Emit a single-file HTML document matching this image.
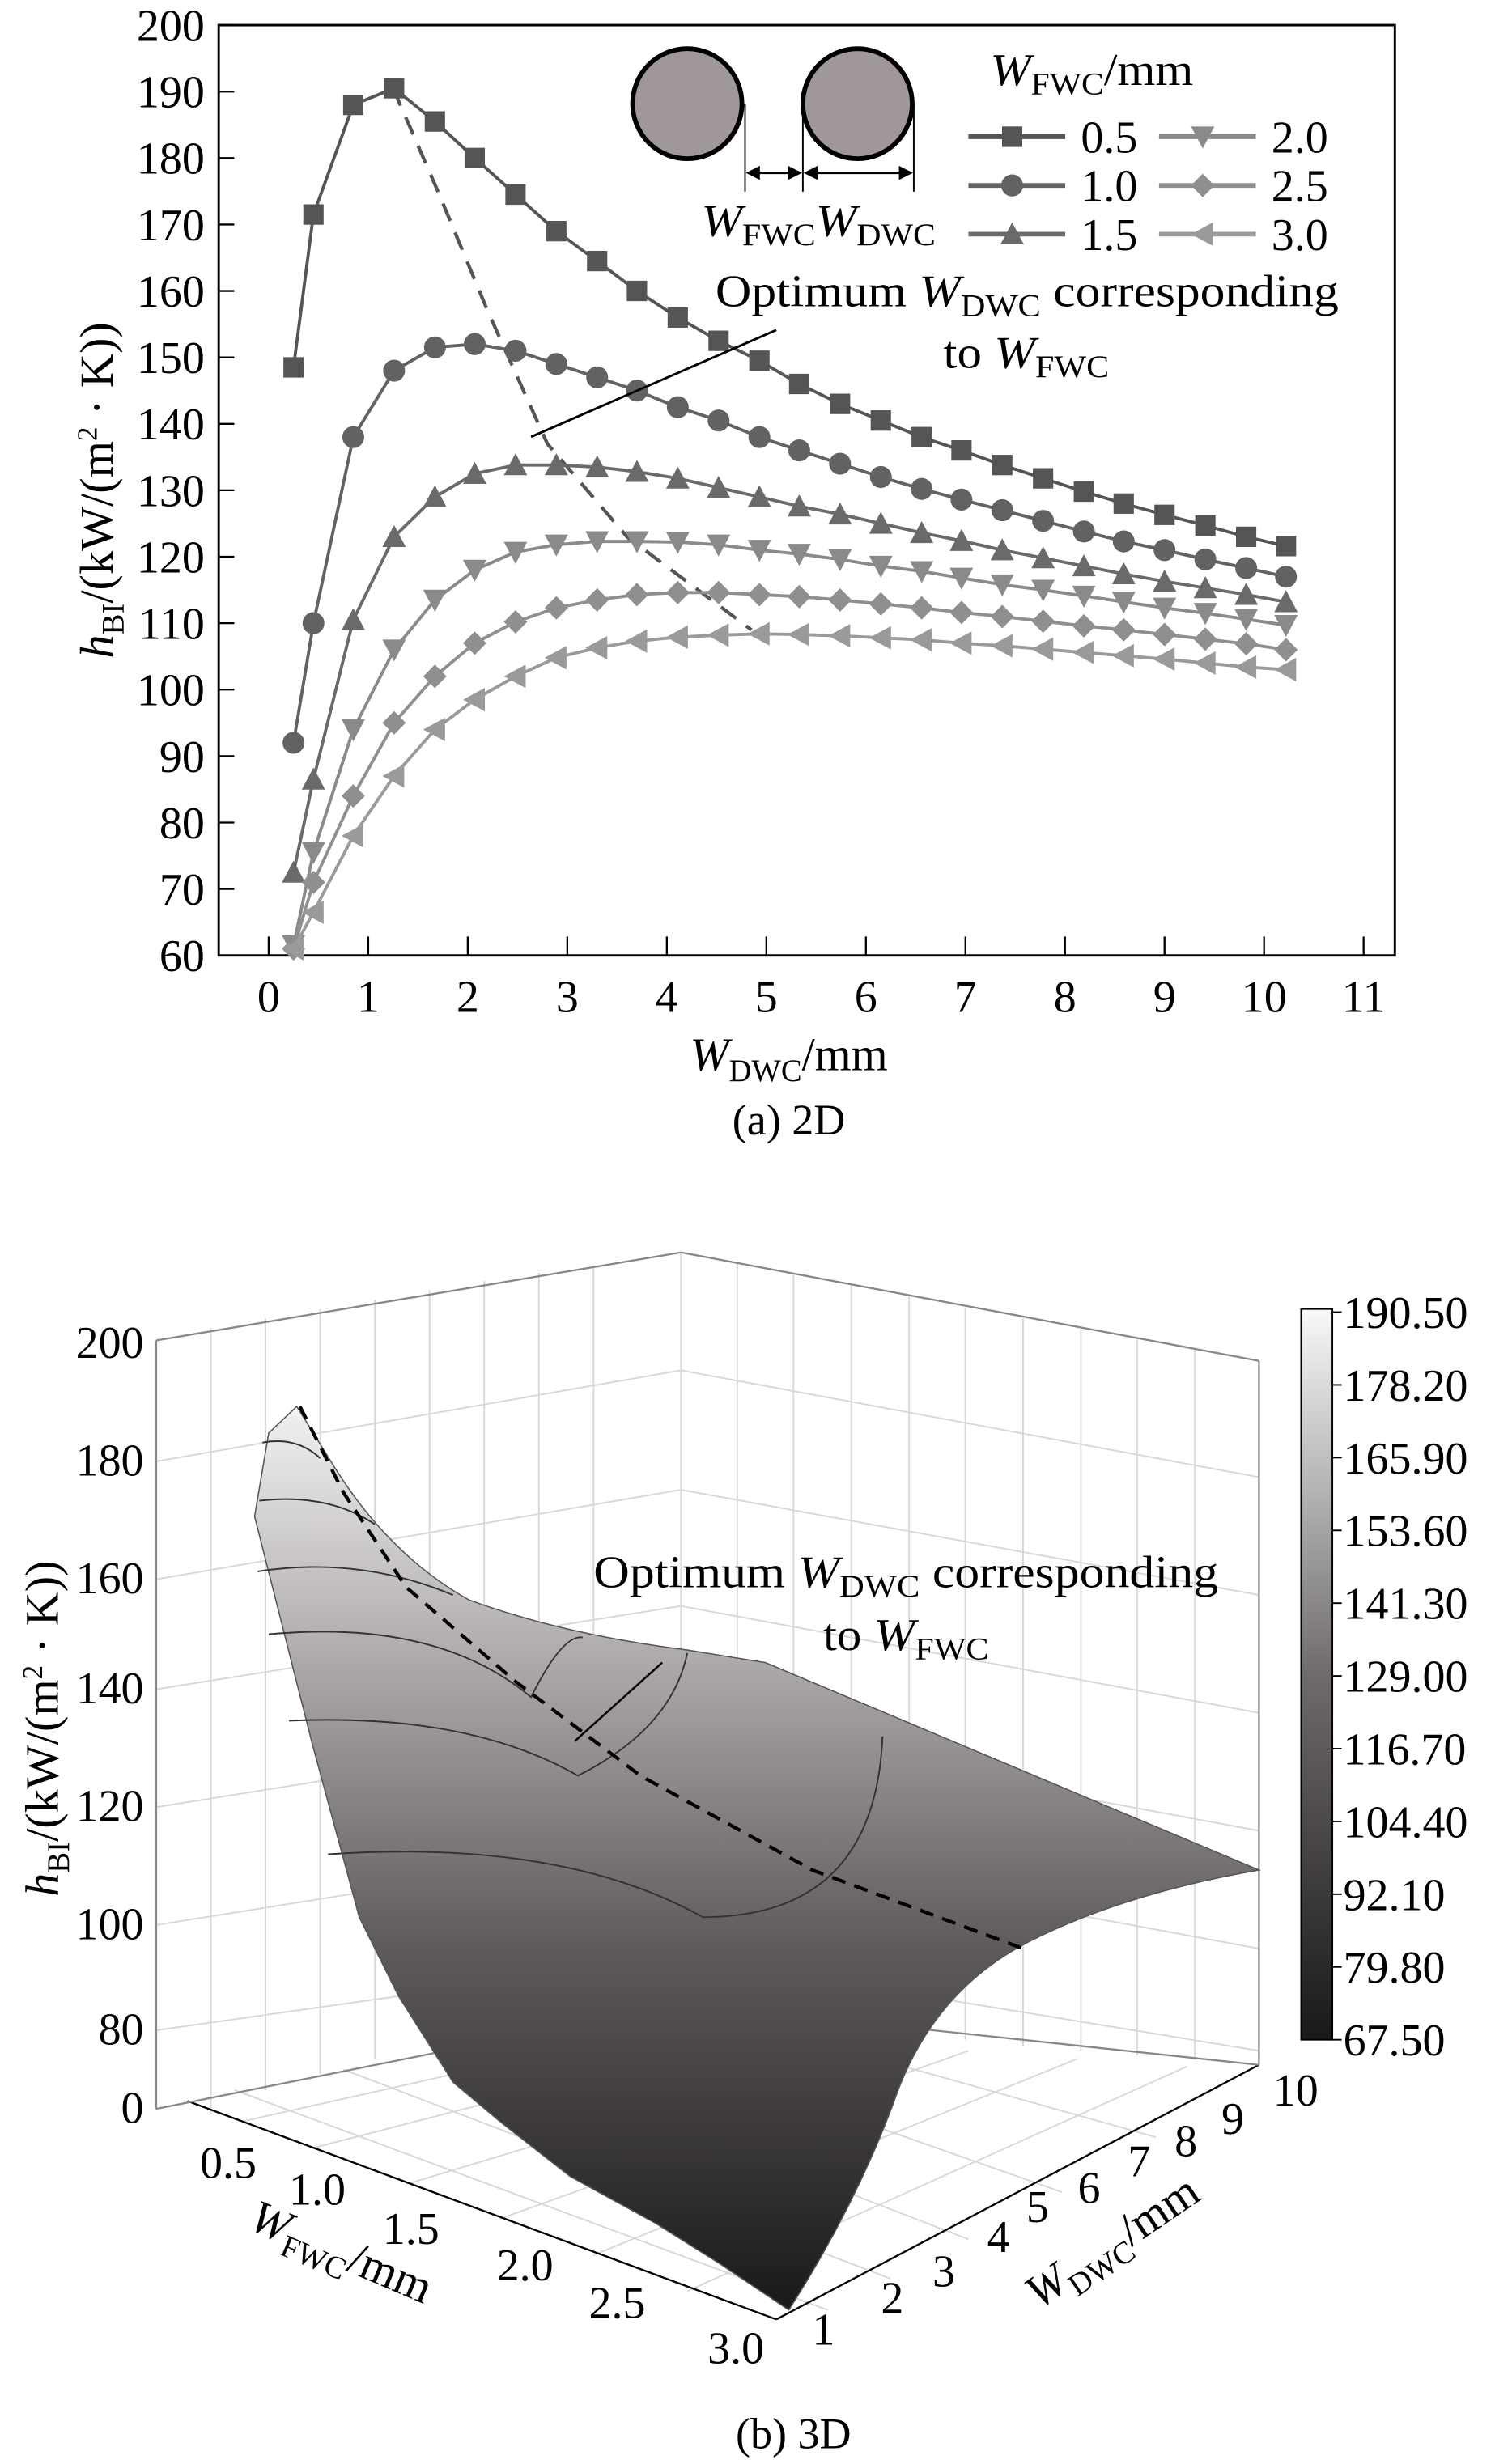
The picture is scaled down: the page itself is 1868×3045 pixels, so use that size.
<!DOCTYPE html>
<html><head><meta charset="utf-8"><style>
html,body{margin:0;padding:0;background:#fff}
svg{display:block;font-family:"Liberation Serif",serif}
</style></head><body>
<svg id="fig" width="1868" height="3045" viewBox="0 0 968 1568" preserveAspectRatio="none" xmlns="http://www.w3.org/2000/svg">
<defs>
<linearGradient id="surfG" x1="0" y1="0" x2="0" y2="1">
<stop offset="0" stop-color="#f2f0f0"/><stop offset="0.3" stop-color="#a9a5a5"/><stop offset="0.6" stop-color="#5e5a5a"/><stop offset="1" stop-color="#1a1818"/></linearGradient>
<linearGradient id="cbG" x1="0" y1="0" x2="0" y2="1">
<stop offset="0" stop-color="#f8f8f8"/><stop offset="0.5" stop-color="#6f6b6b"/><stop offset="1" stop-color="#1a1818"/></linearGradient>
<marker id="arr" markerWidth="6" markerHeight="6" refX="5" refY="3" orient="auto-start-reverse"><path d="M0,0 L6,3 L0,6 z" fill="#000"/></marker>
</defs>
<g id="chartA"></g>
<g>
<ellipse cx="440" cy="66" rx="35" ry="35" fill="#a09898" stroke="#000" stroke-width="3"/>
<ellipse cx="549" cy="66" rx="35" ry="35" fill="#a09898" stroke="#000" stroke-width="3"/>
<line x1="477" y1="66" x2="477" y2="122" stroke="#000"/>
<line x1="514" y1="66" x2="514" y2="122" stroke="#000"/>
<line x1="585" y1="66" x2="585" y2="122" stroke="#000"/>
<line x1="479" y1="110" x2="512" y2="110" stroke="#000" stroke-width="1.5" marker-start="url(#arr)" marker-end="url(#arr)"/>
<line x1="516" y1="110" x2="583" y2="110" stroke="#000" stroke-width="1.5" marker-start="url(#arr)" marker-end="url(#arr)"/>
<text x="449" y="150" font-size="29" textLength="150" lengthAdjust="spacingAndGlyphs"><tspan font-style="italic">W</tspan><tspan font-size="20" dy="6">FWC</tspan><tspan dy="-6" font-style="italic">W</tspan><tspan font-size="20" dy="6">DWC</tspan></text>
</g>
<text x="634" y="54" font-size="29" textLength="130" lengthAdjust="spacingAndGlyphs"><tspan font-style="italic">W</tspan><tspan font-size="20" dy="6">FWC</tspan><tspan dy="-6">/mm</tspan></text>
<g id="legend"></g>
<text x="458" y="195" font-size="29" textLength="399" lengthAdjust="spacingAndGlyphs">Optimum <tspan font-style="italic">W</tspan><tspan font-size="20" dy="6">DWC</tspan><tspan dy="-6"> corresponding</tspan></text>
<text x="604" y="234" font-size="29" textLength="106" lengthAdjust="spacingAndGlyphs">to <tspan font-style="italic">W</tspan><tspan font-size="20" dy="6">FWC</tspan></text>
<line x1="340" y1="278" x2="497" y2="210" stroke="#000" stroke-width="1.5"/>
<text x="505" y="681" font-size="30" text-anchor="middle"><tspan font-style="italic">W</tspan><tspan font-size="20" dy="7">DWC</tspan><tspan dy="-7">/mm</tspan></text>
<text x="505" y="722" font-size="28" text-anchor="middle">(a) 2D</text>
<text transform="translate(72,312) rotate(-90)" font-size="30" text-anchor="middle"><tspan font-style="italic">h</tspan><tspan font-size="20" dy="7">BI</tspan><tspan dy="-7">/(kW/(m</tspan><tspan font-size="18" dy="-10">2</tspan><tspan dy="10"> · K))</tspan></text>

<g>
<g stroke="#d8d8d8" stroke-width="1" fill="none">
<line x1="436" y1="797" x2="436" y2="1275"/>
<path d="M100,930 L436,872 L806,940"/><path d="M100,1005 L436,948 L806,1015"/><path d="M100,1075 L436,1022 L806,1090"/><path d="M100,1150 L436,1097 L806,1165"/><path d="M100,1225 L436,1172 L806,1240"/><path d="M100,1292 L436,1245 L806,1305"/>
<path d="M135,845 L135,1345"/><path d="M170,839 L170,1330"/><path d="M205,833 L205,1320"/><path d="M240,827 L240,1310"/><path d="M275,821 L275,1300"/><path d="M310,815 L310,1292"/><path d="M345,810 L345,1285"/><path d="M380,805 L380,1280"/>
<path d="M472,804 L472,1282"/><path d="M508,811 L508,1286"/><path d="M545,818 L545,1290"/><path d="M582,825 L582,1294"/><path d="M618,832 L618,1298"/><path d="M655,839 L655,1302"/><path d="M692,846 L692,1305"/><path d="M728,852 L728,1308"/><path d="M765,859 L765,1311"/>
<path d="M155,1350 L470,1280"/><path d="M200,1367 L500,1290"/><path d="M260,1390 L560,1300"/><path d="M320,1412 L620,1305"/><path d="M380,1435 L690,1310"/><path d="M440,1458 L760,1315"/>
<path d="M150,1330 L530,1470"/><path d="M220,1317 L570,1450"/><path d="M300,1302 L620,1425"/><path d="M380,1290 L680,1395"/><path d="M460,1282 L740,1360"/>
</g>
<g stroke="#888" stroke-width="1.2" fill="none">
<line x1="100" y1="853" x2="100" y2="1342"/><line x1="100" y1="853" x2="436" y2="797"/><line x1="436" y1="797" x2="806" y2="866"/><line x1="806" y1="866" x2="806" y2="1314"/>
<line x1="120" y1="1337" x2="497" y2="1476" stroke="#000"/><line x1="497" y1="1476" x2="806" y2="1314" stroke="#000"/>
<line x1="100" y1="1342" x2="436" y2="1275"/><line x1="436" y1="1275" x2="806" y2="1314"/>
</g>
<path d="M163,965 L172,912 L190,895 L215,935 Q250,990 300,1018 Q360,1040 440,1050 L490,1058 L806,1190 Q720,1205 660,1235 Q600,1265 575,1330 Q550,1400 505,1470 L460,1440 L420,1415 L365,1385 L320,1350 L290,1325 L255,1270 L230,1220 L200,1110 Z" fill="url(#surfG)" stroke="#555" stroke-width="0.8"/>
<g stroke="#333" stroke-width="1" fill="none">
<path d="M168,918 Q190,914 205,928"/><path d="M166,955 Q210,950 240,970"/><path d="M165,1000 Q230,990 290,1015"/><path d="M172,1040 Q280,1030 340,1080 Q360,1040 373,1042"/><path d="M185,1095 Q300,1090 370,1130 Q430,1100 440,1052"/><path d="M210,1180 Q360,1170 450,1220 Q560,1220 565,1105"/>
</g>
<path d="M192,895 L220,950 L260,1010 L330,1070 L410,1130 L520,1190 L655,1240" stroke="#000" stroke-width="2.2" stroke-dasharray="9,6" fill="none"/>
<line x1="368" y1="1108" x2="424" y2="1058" stroke="#000" stroke-width="1.3"/>
<text x="380" y="1010" font-size="29" textLength="400" lengthAdjust="spacingAndGlyphs">Optimum <tspan font-style="italic">W</tspan><tspan font-size="20" dy="6">DWC</tspan><tspan dy="-6"> corresponding</tspan></text>
<text x="527" y="1050" font-size="29" textLength="106" lengthAdjust="spacingAndGlyphs">to <tspan font-style="italic">W</tspan><tspan font-size="20" dy="6">FWC</tspan></text>
<g font-size="29" text-anchor="end">
<text x="92" y="864">200</text><text x="92" y="939">180</text><text x="92" y="1014">160</text><text x="92" y="1084">140</text><text x="92" y="1159">120</text><text x="92" y="1234">100</text><text x="92" y="1301">80</text><text x="92" y="1351">0</text></g>
<text transform="translate(37,1100) rotate(-90)" font-size="30" text-anchor="middle"><tspan font-style="italic">h</tspan><tspan font-size="20" dy="7">BI</tspan><tspan dy="-7">/(kW/(m</tspan><tspan font-size="18" dy="-10">2</tspan><tspan dy="10"> · K))</tspan></text>
<g font-size="29">
<text x="128" y="1386">0.5</text><text x="185" y="1403">1.0</text><text x="245" y="1428">1.5</text><text x="318" y="1451">2.0</text><text x="377" y="1475">2.5</text><text x="453" y="1504">3.0</text></g>
<g font-size="29">
<text x="520" y="1492">1</text><text x="564" y="1472">2</text><text x="597" y="1455">3</text><text x="632" y="1433">4</text><text x="657" y="1414">5</text><text x="690" y="1402">6</text><text x="722" y="1385">7</text><text x="752" y="1372">8</text><text x="782" y="1358">9</text><text x="815" y="1340">10</text></g>
<text transform="translate(158,1418) rotate(23)" font-size="30"><tspan font-style="italic">W</tspan><tspan font-size="20" dy="7">FWC</tspan><tspan dy="-7">/mm</tspan></text>
<text transform="translate(665,1470) rotate(-34)" font-size="30"><tspan font-style="italic">W</tspan><tspan font-size="20" dy="7">DWC</tspan><tspan dy="-7">/mm</tspan></text>
<rect x="833" y="833" width="20" height="465" fill="url(#cbG)" stroke="#000"/>
<g id="cbticks" font-size="29"></g>
<text x="508" y="1558" font-size="28" text-anchor="middle">(b) 3D</text>
</g>
</svg>
<script>
const xVals=[0.25,0.45,0.85,1.26,1.67,2.07,2.48,2.89,3.30,3.70,4.11,4.52,4.93,5.33,5.74,6.15,6.56,6.96,7.37,7.78,8.19,8.59,9.00,9.41,9.82,10.22];
const seriesNames=["0.5","1.0","1.5","2.0","2.5","3.0"];
const s05=[148.5,171.5,188,190.5,185.5,180,174.5,169,164.5,160,156,152.5,149.5,146,143,140.5,138,136,133.8,131.8,129.8,128,126.3,124.7,123,121.6];
const s10=[92,110,138,148,151.5,152,151,149,147,145,142.5,140.5,138,136,134,132,130.2,128.6,127,125.4,123.8,122.3,121,119.6,118.3,117];
const s15=[72.5,86.5,110.5,123,129,132.5,133.8,133.8,133.5,132.8,131.8,130.4,129,127.6,126.4,125,123.6,122.4,121,119.8,118.6,117.4,116.3,115.3,114.3,113.2];
const s20=[61.5,75.5,94,106,113.5,118,120.7,121.8,122.3,122.3,122.2,121.8,121,120.4,119.6,118.6,117.8,116.8,115.8,115,114.1,113.2,112.3,111.5,110.6,109.7];
const s25=[61,71,84,95,102,107,110.2,112.3,113.5,114.3,114.6,114.6,114.3,114,113.5,112.9,112.3,111.6,111,110.3,109.6,109,108.3,107.6,106.9,106];
const s30=[61,66.5,78,87,94,98.5,102,104.8,106.3,107.3,107.9,108.2,108.4,108.3,108.1,107.8,107.5,107,106.6,106.1,105.6,105.1,104.6,104,103.4,103];
const optX=[1.25,1.7,2.2,2.8,3.6,4.85];
const optY=[190.5,175,157,137,123,109];
const xTicks=[0,1,2,3,4,5,6,7,8,9,10,11];
const yTicks=[60,70,80,90,100,110,120,130,140,150,160,170,180,190,200];
const cbLabels=["190.50","178.20","165.90","153.60","141.30","129.00","116.70","104.40","92.10","79.80","67.50"];
const NS="http://www.w3.org/2000/svg";
const X0=140,X1=893,Y0=16,Y1=608;
function sx(v){return 172+v*(873-172)/11;}
function sy(v){return 608-(v-60)*(608-16)/140;}
function mk(tag,attrs,parent){const e=document.createElementNS(NS,tag);for(const k in attrs)e.setAttribute(k,attrs[k]);parent.appendChild(e);return e;}
const g=document.getElementById('chartA');
const frame=mk('rect',{x:X0,y:Y0,width:X1-X0,height:Y1-Y0,fill:'none',stroke:'#000','stroke-width':1.5},g);


xTicks.forEach(t=>{
 const l=mk('line',{x1:sx(t),x2:sx(t),y1:Y1,y2:Y1-12,stroke:'#000','stroke-width':1.2},g);
 
 
 const tx=mk('text',{x:sx(t),y:644,'font-size':29,'text-anchor':'middle'},g);tx.textContent=t;
 
 
});
yTicks.forEach(t=>{
 const l=mk('line',{x1:X0,x2:X0+10,y1:sy(t),y2:sy(t),stroke:'#000','stroke-width':1.2},g);
 
 
 const tx=mk('text',{x:131,y:sy(t)+10,'font-size':29,'text-anchor':'end'},g);tx.textContent=t;
 
 
});
const od=mk('polyline',{points:optX.map((v,i)=>sx(v)+','+sy(optY[i])).join(' '),fill:'none',stroke:'#555','stroke-width':2.2,'stroke-dasharray':'12,8'},g);


const allS=[s05,s10,s15,s20,s25,s30];
const cols=['#555','#626262','#6a6a6a','#8a8a8a','#8f8f8f','#9a9a9a'];
function marker(i,x,y,c,parent){
 const r=6.5;let e;
 if(i===0)e=mk('rect',{x:x-r,y:y-r,width:2*r,height:2*r,fill:c},parent);
 else if(i===1)e=mk('circle',{cx:x,cy:y,r:r+0.5,fill:c},parent);
 else if(i===2)e=mk('polygon',{points:`${x},${y-r-1} ${x+r+1},${y+r} ${x-r-1},${y+r}`,fill:c},parent);
 else if(i===3)e=mk('polygon',{points:`${x},${y+r+1} ${x+r+1},${y-r} ${x-r-1},${y-r}`,fill:c},parent);
 else if(i===4)e=mk('polygon',{points:`${x},${y-r-1} ${x+r+1},${y} ${x},${y+r+1} ${x-r-1},${y}`,fill:c},parent);
 else e=mk('polygon',{points:`${x-r-1},${y} ${x+r},${y-r-1} ${x+r},${y+r+1}`,fill:c},parent);
 return e;
}
allS.forEach((s,i)=>{
 const sg=mk('g',{},g);
 
 
 const pl=mk('polyline',{points:s.map((v,j)=>sx(xVals[j])+','+sy(v)).join(' '),fill:'none',stroke:cols[i],'stroke-width':2},sg);
 
 
 s.forEach((v,j)=>{
  const m=marker(i,sx(xVals[j]),sy(v),cols[i],sg);
  
  
 });
});
const lg=document.getElementById('legend');
const rows=[87,118,149];
seriesNames.forEach((n,i)=>{
 const col=Math.floor(i/3),row=i%3;
 const lx=col===0?620:742,y=rows[row];
 const e=mk('g',{},lg);
 
 
 mk('line',{x1:lx,x2:lx+62,y1:y,y2:y,stroke:cols[i],'stroke-width':3},e);
 marker(i,lx+28,y,cols[i],e);
 const t=mk('text',{x:lx+72,y:y+10,'font-size':29},e);t.textContent=n;
});
const cb=document.getElementById('cbticks');
cbLabels.forEach((l,i)=>{
 const y=835+i*(1298-835)/10;
 const tk=mk('line',{x1:853,x2:859,y1:y,y2:y,stroke:'#000'},cb);
 
 
 const t=mk('text',{x:860,y:y+10},cb);t.textContent=l;
 
 
});
</script>
</body></html>
